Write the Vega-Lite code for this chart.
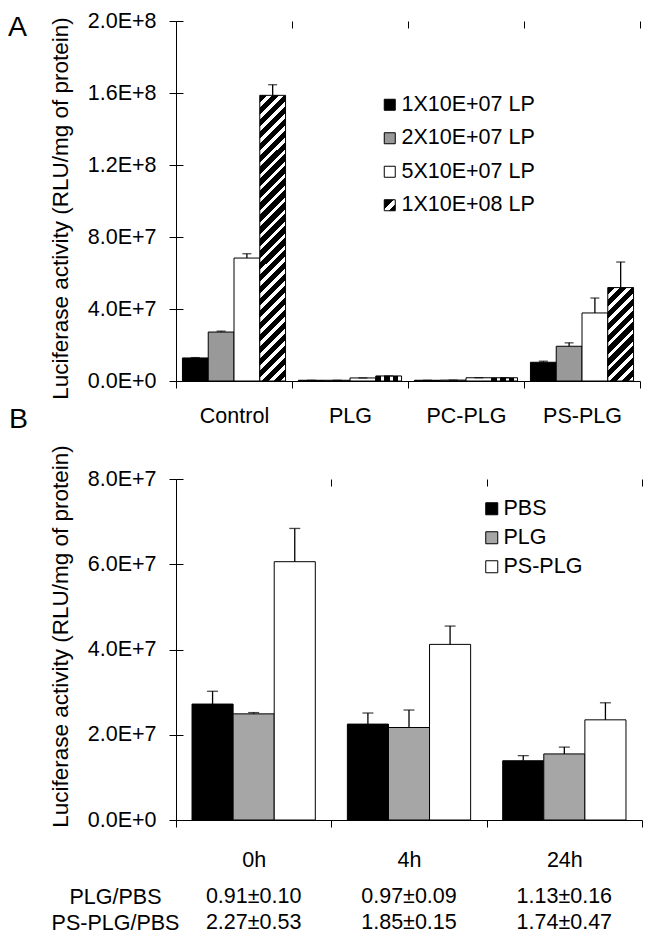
{
  "$schema": "https://vega.github.io/schema/vega-lite/v6.json",
  "padding": {"left": 8, "top": 10, "right": 0, "bottom": 0},
  "background": "white",
  "config": {
    "font": "Liberation Sans",
    "view": {"stroke": null},
    "axis": {
      "labelFont": "Liberation Sans", "titleFont": "Liberation Sans",
      "labelColor": "black", "titleColor": "black", "domainColor": "black", "tickColor": "black",
      "titleFontWeight": "normal", "labelFontSize": 21.5, "titleFontSize": 22.5,
      "tickSize": 7, "domainWidth": 1, "tickWidth": 1,
      "grid": true, "gridDash": [7, 2000], "gridColor": "black", "gridWidth": 1, "gridOpacity": 1
    },
    "legend": {"labelFont": "Liberation Sans", "labelColor": "black", "labelFontSize": 21.5, "padding": 0},
    "title": {"font": "Liberation Sans", "fontWeight": "normal", "color": "black"}
  },
  "datasets": {
    "a": [
      {"group": "Control", "dose": "1X10E+07 LP", "value": 12800000, "hi": 13000000},
      {"group": "Control", "dose": "2X10E+07 LP", "value": 27200000, "hi": 27700000},
      {"group": "Control", "dose": "5X10E+07 LP", "value": 68300000, "hi": 70700000},
      {"group": "Control", "dose": "1X10E+08 LP", "value": 158700000, "hi": 164600000},
      {"group": "PLG", "dose": "1X10E+07 LP", "value": 400000, "hi": 400000},
      {"group": "PLG", "dose": "2X10E+07 LP", "value": 400000, "hi": 400000},
      {"group": "PLG", "dose": "5X10E+07 LP", "value": 1700000, "hi": 1700000},
      {"group": "PLG", "dose": "1X10E+08 LP", "value": 2800000, "hi": 2800000},
      {"group": "PC-PLG", "dose": "1X10E+07 LP", "value": 400000, "hi": 400000},
      {"group": "PC-PLG", "dose": "2X10E+07 LP", "value": 500000, "hi": 500000},
      {"group": "PC-PLG", "dose": "5X10E+07 LP", "value": 1800000, "hi": 1800000},
      {"group": "PC-PLG", "dose": "1X10E+08 LP", "value": 1800000, "hi": 1800000},
      {"group": "PS-PLG", "dose": "1X10E+07 LP", "value": 10400000, "hi": 11000000},
      {"group": "PS-PLG", "dose": "2X10E+07 LP", "value": 19300000, "hi": 21200000},
      {"group": "PS-PLG", "dose": "5X10E+07 LP", "value": 37800000, "hi": 46100000},
      {"group": "PS-PLG", "dose": "1X10E+08 LP", "value": 51900000, "hi": 66100000}
    ],
    "b": [
      {"time": "0h", "treatment": "PBS", "value": 27200000, "hi": 30200000},
      {"time": "0h", "treatment": "PLG", "value": 24900000, "hi": 25200000},
      {"time": "0h", "treatment": "PS-PLG", "value": 60600000, "hi": 68400000},
      {"time": "4h", "treatment": "PBS", "value": 22500000, "hi": 25100000},
      {"time": "4h", "treatment": "PLG", "value": 21700000, "hi": 25800000},
      {"time": "4h", "treatment": "PS-PLG", "value": 41200000, "hi": 45500000},
      {"time": "24h", "treatment": "PBS", "value": 13900000, "hi": 15100000},
      {"time": "24h", "treatment": "PLG", "value": 15500000, "hi": 17100000},
      {"time": "24h", "treatment": "PS-PLG", "value": 23500000, "hi": 27500000}
    ],
    "t": [
      {"time": "0h", "ratio": "PLG/PBS", "text": "0.91±0.10"},
      {"time": "4h", "ratio": "PLG/PBS", "text": "0.97±0.09"},
      {"time": "24h", "ratio": "PLG/PBS", "text": "1.13±0.16"},
      {"time": "0h", "ratio": "PS-PLG/PBS", "text": "2.27±0.53"},
      {"time": "4h", "ratio": "PS-PLG/PBS", "text": "1.85±0.15"},
      {"time": "24h", "ratio": "PS-PLG/PBS", "text": "1.74±0.47"}
    ]
  },
  "spacing": 98,
  "bounds": "flush",
  "resolve": {"scale": {"x": "independent", "y": "independent", "fill": "independent", "xOffset": "independent"}, "legend": {"fill": "independent"}},
  "vconcat": [
    {
      "data": {"name": "a"},
      "width": 464,
      "height": 360,
      "title": {"text": "A", "anchor": "start", "frame": "group", "fontSize": 28.5, "dx": -168, "dy": 54, "offset": 0, "baseline": "alphabetic"},
      "encoding": {
        "x": {"field": "group", "type": "nominal", "sort": ["Control", "PLG", "PC-PLG", "PS-PLG"], "scale": {"paddingInner": 0, "paddingOuter": 0}, "axis": {"title": null, "labelAngle": 0, "tickBand": "extent", "labelPadding": 17}},
        "xOffset": {"field": "dose", "type": "nominal", "sort": ["1X10E+07 LP", "2X10E+07 LP", "5X10E+07 LP", "1X10E+08 LP"], "scale": {"paddingInner": 0, "paddingOuter": 0.25}}
      },
      "layer": [
        {
          "mark": {"type": "bar", "stroke": "black", "strokeWidth": 1},
          "encoding": {
            "y": {"field": "value", "type": "quantitative", "scale": {"domain": [0, 200000000], "nice": false},
                  "axis": {"title": "Luciferase activity (RLU/mg of protein)", "values": [0, 40000000, 80000000, 120000000, 160000000, 200000000], "labelExpr": "replace(format(datum.value, '.1e'), 'e', 'E')", "labelPadding": 13, "titlePadding": 15, "titleY": 187}},
            "fill": {
              "field": "dose", "type": "nominal", "sort": ["1X10E+07 LP", "2X10E+07 LP", "5X10E+07 LP", "1X10E+08 LP"],
              "condition": [
                {"test": "datum.dose === '1X10E+08 LP' && datum.group === 'Control'",
                 "value": {"gradient": "linear", "x1": 0, "y1": 0, "x2": 0.0975, "y2": 1.0814, "stops": [
                   {"offset": 0, "color": "#000"}, {"offset": 0.02308, "color": "#000"}, {"offset": 0.02308, "color": "#fff"}, {"offset": 0.03846, "color": "#fff"},
                   {"offset": 0.03846, "color": "#000"}, {"offset": 0.06154, "color": "#000"}, {"offset": 0.06154, "color": "#fff"}, {"offset": 0.07692, "color": "#fff"},
                   {"offset": 0.07692, "color": "#000"}, {"offset": 0.1, "color": "#000"}, {"offset": 0.1, "color": "#fff"}, {"offset": 0.11538, "color": "#fff"},
                   {"offset": 0.11538, "color": "#000"}, {"offset": 0.13846, "color": "#000"}, {"offset": 0.13846, "color": "#fff"}, {"offset": 0.15385, "color": "#fff"},
                   {"offset": 0.15385, "color": "#000"}, {"offset": 0.17692, "color": "#000"}, {"offset": 0.17692, "color": "#fff"}, {"offset": 0.19231, "color": "#fff"},
                   {"offset": 0.19231, "color": "#000"}, {"offset": 0.21538, "color": "#000"}, {"offset": 0.21538, "color": "#fff"}, {"offset": 0.23077, "color": "#fff"},
                   {"offset": 0.23077, "color": "#000"}, {"offset": 0.25385, "color": "#000"}, {"offset": 0.25385, "color": "#fff"}, {"offset": 0.26923, "color": "#fff"},
                   {"offset": 0.26923, "color": "#000"}, {"offset": 0.29231, "color": "#000"}, {"offset": 0.29231, "color": "#fff"}, {"offset": 0.30769, "color": "#fff"},
                   {"offset": 0.30769, "color": "#000"}, {"offset": 0.33077, "color": "#000"}, {"offset": 0.33077, "color": "#fff"}, {"offset": 0.34615, "color": "#fff"},
                   {"offset": 0.34615, "color": "#000"}, {"offset": 0.36923, "color": "#000"}, {"offset": 0.36923, "color": "#fff"}, {"offset": 0.38462, "color": "#fff"},
                   {"offset": 0.38462, "color": "#000"}, {"offset": 0.40769, "color": "#000"}, {"offset": 0.40769, "color": "#fff"}, {"offset": 0.42308, "color": "#fff"},
                   {"offset": 0.42308, "color": "#000"}, {"offset": 0.44615, "color": "#000"}, {"offset": 0.44615, "color": "#fff"}, {"offset": 0.46154, "color": "#fff"},
                   {"offset": 0.46154, "color": "#000"}, {"offset": 0.48462, "color": "#000"}, {"offset": 0.48462, "color": "#fff"}, {"offset": 0.5, "color": "#fff"},
                   {"offset": 0.5, "color": "#000"}, {"offset": 0.52308, "color": "#000"}, {"offset": 0.52308, "color": "#fff"}, {"offset": 0.53846, "color": "#fff"},
                   {"offset": 0.53846, "color": "#000"}, {"offset": 0.56154, "color": "#000"}, {"offset": 0.56154, "color": "#fff"}, {"offset": 0.57692, "color": "#fff"},
                   {"offset": 0.57692, "color": "#000"}, {"offset": 0.6, "color": "#000"}, {"offset": 0.6, "color": "#fff"}, {"offset": 0.61538, "color": "#fff"},
                   {"offset": 0.61538, "color": "#000"}, {"offset": 0.63846, "color": "#000"}, {"offset": 0.63846, "color": "#fff"}, {"offset": 0.65385, "color": "#fff"},
                   {"offset": 0.65385, "color": "#000"}, {"offset": 0.67692, "color": "#000"}, {"offset": 0.67692, "color": "#fff"}, {"offset": 0.69231, "color": "#fff"},
                   {"offset": 0.69231, "color": "#000"}, {"offset": 0.71538, "color": "#000"}, {"offset": 0.71538, "color": "#fff"}, {"offset": 0.73077, "color": "#fff"},
                   {"offset": 0.73077, "color": "#000"}, {"offset": 0.75385, "color": "#000"}, {"offset": 0.75385, "color": "#fff"}, {"offset": 0.76923, "color": "#fff"},
                   {"offset": 0.76923, "color": "#000"}, {"offset": 0.79231, "color": "#000"}, {"offset": 0.79231, "color": "#fff"}, {"offset": 0.80769, "color": "#fff"},
                   {"offset": 0.80769, "color": "#000"}, {"offset": 0.83077, "color": "#000"}, {"offset": 0.83077, "color": "#fff"}, {"offset": 0.84615, "color": "#fff"},
                   {"offset": 0.84615, "color": "#000"}, {"offset": 0.86923, "color": "#000"}, {"offset": 0.86923, "color": "#fff"}, {"offset": 0.88462, "color": "#fff"},
                   {"offset": 0.88462, "color": "#000"}, {"offset": 0.90769, "color": "#000"}, {"offset": 0.90769, "color": "#fff"}, {"offset": 0.92308, "color": "#fff"},
                   {"offset": 0.92308, "color": "#000"}, {"offset": 0.94615, "color": "#000"}, {"offset": 0.94615, "color": "#fff"}, {"offset": 0.96154, "color": "#fff"},
                   {"offset": 0.96154, "color": "#000"}, {"offset": 0.98462, "color": "#000"}, {"offset": 0.98462, "color": "#fff"}, {"offset": 1, "color": "#fff"}
                 ]}},
                {"test": "datum.dose === '1X10E+08 LP' && datum.group === 'PS-PLG'",
                 "value": {"gradient": "linear", "x1": 0, "y1": 0, "x2": 0.3269, "y2": 1.1856, "stops": [
                   {"offset": 0, "color": "#000"}, {"offset": 0.06, "color": "#000"}, {"offset": 0.06, "color": "#fff"}, {"offset": 0.1, "color": "#fff"},
                   {"offset": 0.1, "color": "#000"}, {"offset": 0.16, "color": "#000"}, {"offset": 0.16, "color": "#fff"}, {"offset": 0.2, "color": "#fff"},
                   {"offset": 0.2, "color": "#000"}, {"offset": 0.26, "color": "#000"}, {"offset": 0.26, "color": "#fff"}, {"offset": 0.3, "color": "#fff"},
                   {"offset": 0.3, "color": "#000"}, {"offset": 0.36, "color": "#000"}, {"offset": 0.36, "color": "#fff"}, {"offset": 0.4, "color": "#fff"},
                   {"offset": 0.4, "color": "#000"}, {"offset": 0.46, "color": "#000"}, {"offset": 0.46, "color": "#fff"}, {"offset": 0.5, "color": "#fff"},
                   {"offset": 0.5, "color": "#000"}, {"offset": 0.56, "color": "#000"}, {"offset": 0.56, "color": "#fff"}, {"offset": 0.6, "color": "#fff"},
                   {"offset": 0.6, "color": "#000"}, {"offset": 0.66, "color": "#000"}, {"offset": 0.66, "color": "#fff"}, {"offset": 0.7, "color": "#fff"},
                   {"offset": 0.7, "color": "#000"}, {"offset": 0.76, "color": "#000"}, {"offset": 0.76, "color": "#fff"}, {"offset": 0.8, "color": "#fff"},
                   {"offset": 0.8, "color": "#000"}, {"offset": 0.86, "color": "#000"}, {"offset": 0.86, "color": "#fff"}, {"offset": 0.9, "color": "#fff"},
                   {"offset": 0.9, "color": "#000"}, {"offset": 0.96, "color": "#000"}, {"offset": 0.96, "color": "#fff"}, {"offset": 1, "color": "#fff"}
                 ]}},
                {"test": "datum.dose === '1X10E+08 LP'",
                 "value": {"gradient": "linear", "x1": 0, "y1": 0, "x2": 1, "y2": 0, "stops": [
                   {"offset": 0, "color": "#000"}, {"offset": 0.22, "color": "#000"}, {"offset": 0.22, "color": "#fff"}, {"offset": 0.33, "color": "#fff"},
                   {"offset": 0.33, "color": "#000"}, {"offset": 0.55, "color": "#000"}, {"offset": 0.55, "color": "#fff"}, {"offset": 0.66, "color": "#fff"},
                   {"offset": 0.66, "color": "#000"}, {"offset": 0.88, "color": "#000"}, {"offset": 0.88, "color": "#fff"}, {"offset": 1, "color": "#fff"}
                 ]}}
              ],
              "scale": {"range": ["#000000", "#999999", "#ffffff", {"expr": "{gradient: 'linear', x1: 0, y1: 0, x2: 1, y2: 1, stops: [{offset: 0, color: '#000'}, {offset: 0.42, color: '#000'}, {offset: 0.42, color: '#fff'}, {offset: 0.7, color: '#fff'}, {offset: 0.7, color: '#000'}, {offset: 1, color: '#000'}]}"}]},
              "legend": {"title": null, "orient": "none", "legendX": 203, "legendY": 73, "symbolType": "square", "symbolSize": 121, "symbolStrokeColor": "black", "symbolStrokeWidth": 1, "rowPadding": 10.5, "labelOffset": 1}
            }
          }
        },
        {
          "mark": {"type": "rule", "color": "black", "strokeWidth": 1.3},
          "encoding": {"y": {"field": "value", "type": "quantitative"}, "y2": {"field": "hi"}}
        },
        {
          "mark": {"type": "tick", "color": "black", "thickness": 1.3, "size": 9},
          "encoding": {"y": {"field": "hi", "type": "quantitative"}}
        }
      ]
    },
    {
      "spacing": 64,
      "bounds": "flush",
      "resolve": {"scale": {"x": "independent", "y": "independent", "fill": "independent", "xOffset": "independent"}, "legend": {"fill": "independent"}},
      "vconcat": [
        {
          "data": {"name": "b"},
          "width": 466,
          "height": 341,
          "title": {"text": "B", "anchor": "start", "frame": "group", "fontSize": 28.5, "dx": -167, "dy": 12, "offset": 0, "baseline": "alphabetic"},
          "encoding": {
            "x": {"field": "time", "type": "nominal", "sort": ["0h", "4h", "24h"], "scale": {"paddingInner": 0, "paddingOuter": 0}, "axis": {"title": null, "labelAngle": 0, "tickBand": "extent", "labelPadding": 22}},
            "xOffset": {"field": "treatment", "type": "nominal", "sort": ["PBS", "PLG", "PS-PLG"], "scale": {"paddingInner": 0, "paddingOuter": 0.39}}
          },
          "layer": [
            {
              "mark": {"type": "bar", "stroke": "black", "strokeWidth": 1},
              "encoding": {
                "y": {"field": "value", "type": "quantitative", "scale": {"domain": [0, 80000000], "nice": false},
                      "axis": {"title": "Luciferase activity (RLU/mg of protein)", "values": [0, 20000000, 40000000, 60000000, 80000000], "labelExpr": "replace(format(datum.value, '.1e'), 'e', 'E')", "labelPadding": 13, "titlePadding": 15, "titleY": 157}},
                "fill": {
                  "field": "treatment", "type": "nominal", "sort": ["PBS", "PLG", "PS-PLG"],
                  "scale": {"range": ["#000000", "#a6a6a6", "#ffffff"]},
                  "legend": {"title": null, "orient": "none", "legendX": 305, "legendY": 19, "symbolType": "square", "symbolSize": 144, "symbolStrokeColor": "black", "symbolStrokeWidth": 1, "rowPadding": 6, "labelOffset": 1}
                }
              }
            },
            {
              "mark": {"type": "rule", "color": "black", "strokeWidth": 1.3},
              "encoding": {"y": {"field": "value", "type": "quantitative"}, "y2": {"field": "hi"}}
            },
            {
              "mark": {"type": "tick", "color": "black", "thickness": 1.3, "size": 11},
              "encoding": {"y": {"field": "hi", "type": "quantitative"}}
            }
          ]
        },
        {
          "data": {"name": "t"},
          "width": 466,
          "height": 52,
          "mark": {"type": "text", "fontSize": 21.5, "font": "Liberation Sans", "color": "black"},
          "encoding": {
            "x": {"field": "time", "type": "nominal", "sort": ["0h", "4h", "24h"], "scale": {"paddingInner": 0, "paddingOuter": 0}, "axis": null},
            "y": {"field": "ratio", "type": "nominal", "sort": ["PLG/PBS", "PS-PLG/PBS"], "scale": {"paddingInner": 0, "paddingOuter": 0},
                  "axis": {"title": null, "domain": false, "ticks": false, "grid": false, "labelAlign": "center", "labelPadding": 61}},
            "text": {"field": "text"}
          }
        }
      ]
    }
  ]
}
